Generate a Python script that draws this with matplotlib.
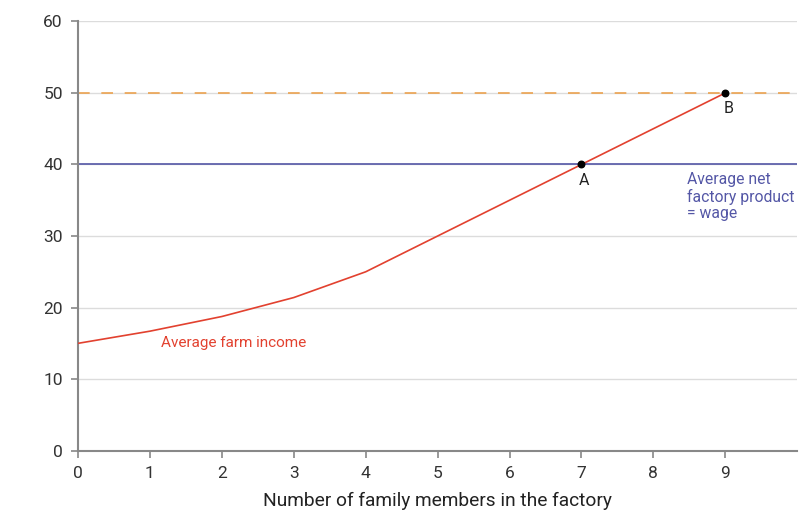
import numpy as np
import matplotlib.pyplot as plt

plt.rcParams['font.family'] = ['Roboto', 'DejaVu Sans']

# Data
members = [0, 1, 2, 3, 4, 5, 6, 7, 8, 9]
farm_income = [15, 16.7, 18.75, 21.4, 25, 30, 35, 40, 45, 50]
wage = 40
top_level = 50
points_x = [7, 9]
points_y = [40, 50]
point_labels = ['A', 'B']

red = '#e2412f'
blue = '#5457a6'
orange = '#eba24f'

fig = plt.figure(figsize=(8.1, 5.21), dpi=100)
ax = fig.add_axes([0.0963, 0.135, 0.888, 0.824])

ax.set_xlim(0, 10)
ax.set_ylim(0, 60)

# horizontal grid
for yv in range(10, 61, 10):
    ax.axhline(yv, color='#dcdcdc', lw=1.0, zorder=0)

ax.axhline(top_level, color=orange, lw=1.2, dashes=(7, 7), zorder=2)
ax.axhline(wage, color=blue, lw=1.2, zorder=2)
ax.plot(members, farm_income, color=red, lw=1.2, zorder=3)
ax.scatter(points_x, points_y, s=22, color='black', zorder=4)

for px, py, lab in zip(points_x, points_y, point_labels):
    ax.text(px + 0.04, py - 2.2, lab, ha='center', va='center', fontsize=11.5, color='#222222')

ax.text(1.15, 15, 'Average farm income', ha='left', va='center', fontsize=11, color=red)
ax.text(8.47, 39.0, 'Average net\nfactory product\n= wage', ha='left', va='top',
        fontsize=11.3, color=blue, linespacing=1.15)

ax.set_xticks(range(0, 10))
ax.set_yticks(range(0, 61, 10))
ax.tick_params(axis='both', colors='#888888', labelcolor='#333333', labelsize=12.5,
               length=5, width=1.2)
ax.tick_params(axis='y', pad=6)
ax.tick_params(axis='x', pad=6)

for side in ['top', 'right']:
    ax.spines[side].set_visible(False)
for side in ['left', 'bottom']:
    ax.spines[side].set_color('#888888')
    ax.spines[side].set_linewidth(1.5)

ax.set_xlabel('Number of family members in the factory', fontsize=13.8, color='#222222', labelpad=8)

fig.savefig('out.png', dpi=100)
